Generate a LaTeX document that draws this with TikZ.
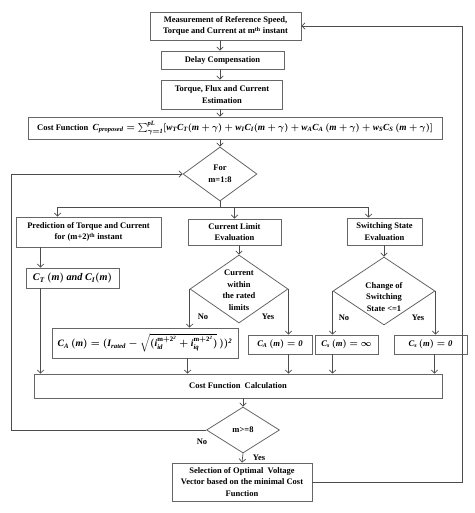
\documentclass[tikz,border=0pt]{standalone}
\usepackage{amsmath}
\usepackage{fontspec}
\setmainfont{Liberation Serif}
\newfontfamily\lsfam{Liberation Serif}[NFSSFamily=lsfam]
\DeclareMathAlphabet{\mathbi}{TU}{lsfam}{bx}{it}
\usetikzlibrary{shapes.geometric,arrows.meta,calc}
\begin{document}
\boldmath
\begin{tikzpicture}[x=1pt,y=-1pt,
  box/.style={draw=black!60, line width=0.8pt, rectangle, inner sep=0pt, align=center,
    font=\fontsize{8.5}{11.5}\selectfont\bfseries},
  dia/.style={draw=black!60, line width=0.8pt, diamond, inner sep=0pt},
  txt/.style={inner sep=0pt, align=center, font=\fontsize{8.5}{11.5}\selectfont\bfseries},
  arr/.style={draw=black!70, line width=0.7pt, -{Straight Barb[length=3.2pt,width=6.5pt]}},
  ln/.style={draw=black!70, line width=0.7pt},
  lbl/.style={inner sep=0pt, font=\fontsize{8.5}{10}\selectfont\bfseries}]
\useasboundingbox (0,0) rectangle (474,513);
% boxes
\node[box, minimum width=151pt, minimum height=28pt] (b1) at (225.5,26)
  {Measurement of Reference Speed,\\Torque and Current at m\textsuperscript{th} instant};
\node[box, minimum width=123pt, minimum height=18pt] (b2) at (222.5,60) {Delay Compensation};
\node[box, minimum width=121pt, minimum height=29pt] (b3) at (222,94.5) {Torque, Flux and Current\\Estimation};
\node[box, minimum width=414pt, minimum height=22pt] (cost) at (235,128)
  {Cost Function\ \ {\fontsize{9.3}{10}\selectfont$\mathbi{C_{proposed}=\sum_{\gamma=1}^{pL}[w_TC_T(m+\gamma)+w_IC_I(m+\gamma)+w_AC_A\,(m+\gamma)+w_SC_S\,(m+\gamma)]}$}};
\node[dia, minimum width=74pt, minimum height=54pt] (forD) at (220,174) {};
\node[txt] (forT) at (forD) {For\\m=1:8};
\node[box, minimum width=145pt, minimum height=30pt] (pred) at (88.5,232)
  {Prediction of Torque and Current\\for (m+2)\textsuperscript{th} instant};
\node[box, minimum width=93pt, minimum height=20pt] (ct) at (72.5,278)
  {\fontsize{10.2}{11}\selectfont$\mathbi{C_T\ (m)\ and\ C_I(m)}$};
\node[box, minimum width=93pt, minimum height=26pt] (cle) at (234.5,232) {Current Limit\\Evaluation};
\node[box, minimum width=75pt, minimum height=27pt] (sse) at (384.5,231.5) {Switching State\\Evaluation};
\node[dia, minimum width=98pt, minimum height=68pt] (cld) at (239,289) {};
\node[txt] (cldT) at (239,290) {Current\\within\\the rated\\limits};
\node[dia, minimum width=102pt, minimum height=68pt] (swd) at (384,291) {};
\node[txt] (swdT) at (384,297) {Change of\\Switching\\State <=1};
\node[box, minimum width=186pt, minimum height=30pt] (caf) at (145,343)
  {\fontsize{9.7}{11}\selectfont$\mathbi{C_A\,(m)=(I_{rated}-\sqrt{(i_{id}^{\mathrm{m+2}^{2}}+i_{iq}^{\mathrm{m+2}^{2}})}\,))^2}$};
\node[box, minimum width=64pt, minimum height=19pt] (ca0) at (280,344.5)
  {\fontsize{8.6}{10}\selectfont$\mathbi{C_A\,(m)=0}$};
\node[box, minimum width=63pt, minimum height=19pt] (csi) at (346.5,344.5)
  {\fontsize{8.6}{10}\selectfont$\mathbi{C_s\,(m)=\infty}$};
\node[box, minimum width=73pt, minimum height=19pt] (cs0) at (430.5,344.5)
  {\fontsize{8.6}{10}\selectfont$\mathbi{C_s\,(m)=0}$};
\node[box, minimum width=408pt, minimum height=24pt] (cfc) at (238,386) {Cost Function\ \ Calculation};
\node[dia, minimum width=73pt, minimum height=46pt] (m8) at (243,430) {};
\node[txt] (m8T) at (m8) {m>=8};
\node[box, minimum width=140pt, minimum height=38pt] (sel) at (242,482)
  {Selection of Optimal\ \ Voltage\\Vector based on the minimal\ Cost\\Function};
% main column
\draw[arr] (b1.south -| forD) -- (b2.north -| forD);
\draw[arr] (b2.south -| forD) -- (b3.north -| forD);
\draw[arr] (b3.south -| forD) -- (cost.north -| forD);
\draw[arr] (cost.south -| forD) -- (forD.north);
% split
\coordinate (j) at (220,207);
\coordinate (pj) at ($(pred.north west)+(42,0)$);
\coordinate (sj) at ($(sse.north west)+(22,0)$);
\draw[ln] (forD.south) -- (j);
\draw[arr] (j) -| (pj);
\draw[arr] (j) -| (cle.north);
\draw[arr] (j) -| (sj);
% left branch
\coordinate (p1) at ($(pred.south west)+(25,0)$);
\draw[arr] (p1) -- (p1 |- ct.north);
\draw[arr] (p1 |- ct.south) -- (p1 |- cfc.north);
% middle branch
\draw[arr] (cle.south -| cld) -- (cld.north);
\draw[arr] (cld.west) -- (cld.west |- caf.north);
\draw[arr] (cld.east) -- (cld.east |- ca0.north);
\draw[arr] ($(cld.west |- caf.south)+(-2,0)$) -- ($(cld.west |- cfc.north)+(-2,0)$);
\draw[arr] (cld.east |- ca0.south) -- (cld.east |- cfc.north);
% right branch
\draw[arr] (sse.south -| swd) -- (swd.north);
\draw[arr] (swd.west) -- (swd.west |- csi.north);
\draw[arr] (swd.east) -- (swd.east |- cs0.north);
\draw[arr] (swd.west |- csi.south) -- (swd.west |- cfc.north);
\draw[arr] ($(swd.east |- cs0.south)+(-1,0)$) -- ($(swd.east |- cfc.north)+(-1,0)$);
% bottom
\draw[arr] (cfc.south -| m8) -- (m8.north);
\draw[arr] (m8.south) -- (sel.north);
\draw[arr] (m8.west) -- ++(-195,0) |- (forD.west);
\draw[arr] (sel.east) -- ++(150,0) |- (b1.east);
% labels
\node[lbl] (no1) at (203,317) {No};
\node[lbl] (yes1) at (268,317) {Yes};
\node[lbl] (no2) at (344,318) {No};
\node[lbl] (yes2) at (418,318) {Yes};
\node[lbl] (no3) at (202,442) {No};
\node[lbl] (yes3) at (259,458) {Yes};
\end{tikzpicture}
\end{document}
